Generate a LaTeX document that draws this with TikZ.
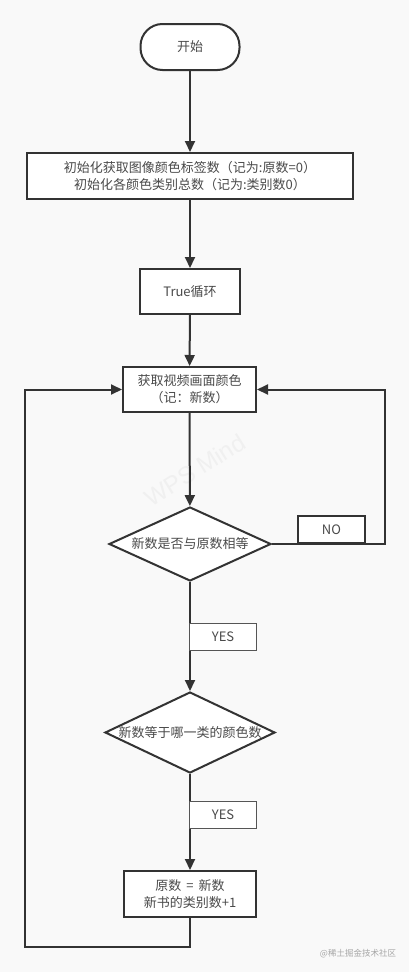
\documentclass[tikz,border=0pt]{standalone}
\usepackage{fontspec}
\setmainfont{Noto Sans CJK SC}
\newfontfamily\wmfont{Liberation Sans}
\usetikzlibrary{arrows.meta,shapes.geometric}
\definecolor{linec}{HTML}{333333}
\definecolor{lblc}{HTML}{555555}
\definecolor{txt}{HTML}{4A4A4A}
\definecolor{bg}{HTML}{F9F9F9}
\tikzset{
  box/.style={draw=linec, line width=2pt, fill=white, text=txt,
    font=\fontsize{13}{17}\selectfont, align=center, inner sep=0pt},
  lbl/.style={draw=lblc, line width=1.6pt, fill=white, text=txt,
    font=\fontsize{13}{15}\selectfont, minimum width=67pt, minimum height=27pt, inner sep=0pt},
  dia/.style={draw=linec, line width=2pt, fill=white, diamond, inner sep=0pt},
  dtext/.style={text=txt, font=\fontsize{13}{15}\selectfont, inner sep=0pt},
  conn/.style={draw=linec, line width=2pt, -{Triangle[length=11pt,width=10pt]}},
}
\begin{document}
\begin{tikzpicture}[x=1pt,y=-1pt]
\fill[bg] (0,0) rectangle (409,972);
\useasboundingbox (0,0) rectangle (409,972);
\node[text=black!6, font=\wmfont\fontsize{24}{26}\selectfont, rotate=32, inner sep=0pt] (wps) at (195,470) {WPS Mind};

\node[box, rounded corners=22pt, minimum width=99pt, minimum height=46pt] (start) at (190,47) {开始};
\node[box, minimum width=326pt, minimum height=46pt] (init) at (190,176) {初始化获取图像颜色标签数（记为:原数=0）\\初始化各颜色类别总数（记为:类别数0）};
\node[box, minimum width=100pt, minimum height=45pt] (loop) at (190,291.5) {True循环};
\node[box, minimum width=133pt, minimum height=45pt] (get) at (189.5,389.5) {获取视频画面颜色\\（记：新数）};
\node[dia, minimum width=162pt, minimum height=74pt] (d1) at (190,544) {};
\node[dtext] (d1t) at (d1) {新数是否与原数相等};
\node[dia, minimum width=170pt, minimum height=81pt] (d2) at (190,732.5) {};
\node[dtext] (d2t) at (d2) {新数等于哪一类的颜色数};
\node[box, minimum width=132pt, minimum height=46pt] (upd) at (190,894) {原数\,\ =\ \,新数\\新书的类别数+1};

\coordinate (rx) at (385,0);
\coordinate (lb) at (25,947);

\draw[conn] (start) -- (init);
\draw[conn] (init) -- (loop);
\draw[conn] (loop) -- (get);
\draw[conn] (get) -- (d1);
\draw[conn] (d1) -- (d2);
\draw[conn] (d2) -- (upd);
\draw[conn] (d1.east) -- (d1.east -| rx) |- (get.east);
\draw[conn] (upd.south) |- (lb) |- (get.west);

\node[lbl, draw=linec, line width=2pt] (no) at (331.5,529.5) {NO};
\node[lbl] (yes1) at (223,637) {YES};
\node[lbl] (yes2) at (223,815) {YES};

\node[text=black!35, font=\fontsize{8.5}{10}\selectfont, inner sep=0pt] (wm) at (358,954) {@稀土掘金技术社区};
\end{tikzpicture}
\end{document}
